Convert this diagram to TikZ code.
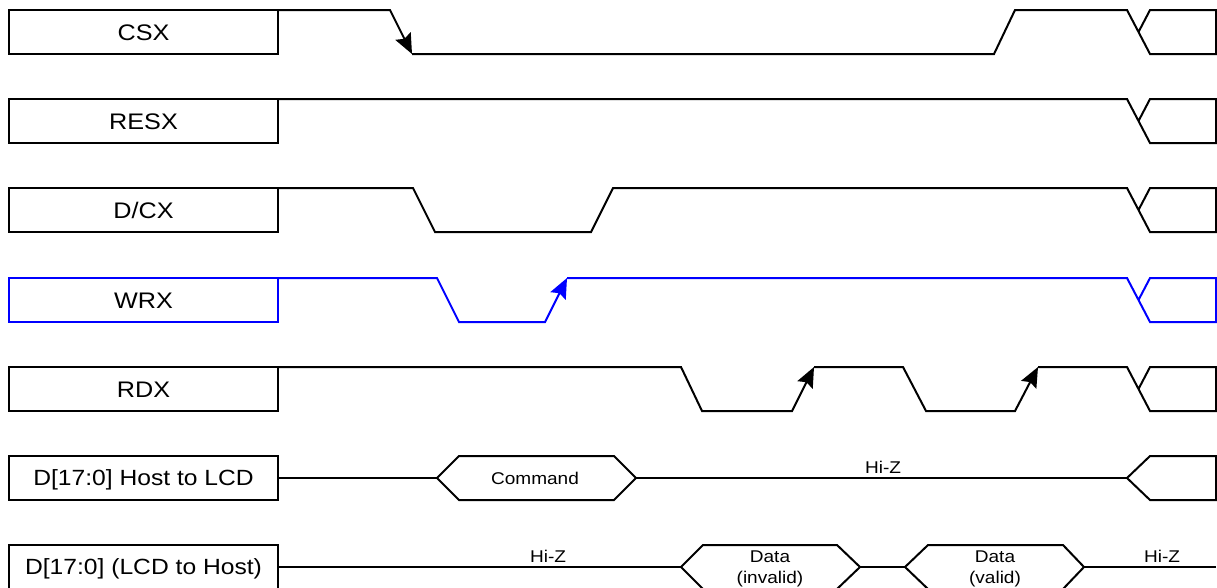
\documentclass[tikz,border=0pt]{standalone}
\usepackage{fontspec}
\setmainfont{Liberation Sans}[FakeStretch=1.12]
\usetikzlibrary{arrows.meta}
\begin{document}
\begin{tikzpicture}[x=1pt,y=-1pt, line width=2pt, line join=miter,
  lbl/.style={draw, line width=2pt, minimum width=269pt, minimum height=44pt, inner sep=0pt, outer sep=0pt,
    font=\fontsize{22.5}{26}\selectfont, text height=16.1pt, text depth=0pt, anchor=west},
  lblbig/.style={lbl, font=\fontsize{22}{26}\selectfont, text height=15.8pt},
  small/.style={font=\fontsize{17}{20}\selectfont, inner sep=0pt, anchor=base},
  tipd/.style={-{Stealth[length=20pt,width=17pt,inset=3pt]}},
  wr/.style={draw=blue}]
\useasboundingbox (0,0) rectangle (1217,587);

% labels
\node[lbl] (csx) at (9,32) {CSX};
\node[lbl] (resx) at (9,121) {RESX};
\node[lbl] (dcx) at (9,210) {D/CX};
\node[lbl, wr] (wrx) at (9,300) {WRX};
\node[lbl] (rdx) at (9,389) {RDX};
\node[lblbig] (dh) at (9,478) {D[17:0] Host to LCD};
\node[lblbig] (dl) at (9,567) {D[17:0] (LCD to Host)};

% CSX
\coordinate (csxa) at (412,54);
\draw[tipd] (csx.north east) -- (390,10) -- (csxa);
\draw (csxa) -- (994,54) -- (1015,10) -- (1127,10) -- (1150,54) -- (1216,54) -- (1216,10) -- (1150,10) -- (1138.5,32);

% RESX
\draw (resx.north east) -- (1127,99) -- (1150,143) -- (1216,143) -- (1216,99) -- (1150,99) -- (1138.5,121);

% D/CX
\draw (dcx.north east) -- (413,188) -- (435,232) -- (591,232) -- (613,188) -- (1127,188) -- (1150,232) -- (1216,232) -- (1216,188) -- (1150,188) -- (1138.5,210);

% WRX
\coordinate (wra) at (567,278);
\draw[blue, tipd] (wrx.north east) -- (437,278) -- (459,322) -- (545,322) -- (wra);
\draw[blue] (wra) -- (1127,278) -- (1150,322) -- (1216,322) -- (1216,278) -- (1150,278) -- (1138.5,300);

% RDX
\coordinate (rda) at (814,367);
\coordinate (rdb) at (1038,367);
\draw[tipd] (rdx.north east) -- (681,367) -- (702,411) -- (792,411) -- (rda);
\draw[tipd] (rda) -- (903,367) -- (926,411) -- (1015,411) -- (rdb);
\draw (rdb) -- (1127,367) -- (1150,411) -- (1216,411) -- (1216,367) -- (1150,367) -- (1138.5,389);

% D[17:0] Host to LCD
\coordinate (cmdl) at (437,478);
\coordinate (cmdr) at (636,478);
\coordinate (hend) at (1127,478);
\draw (dh.east) -- (cmdl);
\draw (cmdl) -- (459,456) -- (614,456) -- (cmdr) -- (614,500) -- (459,500) -- cycle;
\draw (cmdr) -- (hend);
\draw (hend) -- (1150,456) -- (1216,456) -- (1216,500) -- (1150,500) -- cycle;
\node[small] (cmd) at (535,484) {Command};
\node[small] (hz1) at (883,473) {Hi-Z};

% D[17:0] LCD to Host
\coordinate (dil) at (681,567);
\coordinate (dir) at (860,567);
\coordinate (dvl) at (905,567);
\coordinate (dvr) at (1084,567);
\coordinate (lend) at (1216,567);
\draw (dl.east) -- (dil);
\draw (dil) -- (703,545) -- (837,545) -- (dir) -- (837,589) -- (703,589) -- cycle;
\draw (dir) -- (dvl);
\draw (dvl) -- (928,545) -- (1063,545) -- (dvr) -- (1063,589) -- (928,589) -- cycle;
\draw (dvr) -- (lend);
\node[small] (hz2) at (548,562) {Hi-Z};
\node[small] (hz3) at (1162,562) {Hi-Z};
\node[small] (d1) at (770,562) {Data};
\node[small] (d1b) at (770,583) {(invalid)};
\node[small] (d2) at (995,562) {Data};
\node[small] (d2b) at (995,583) {(valid)};
\end{tikzpicture}
\end{document}
